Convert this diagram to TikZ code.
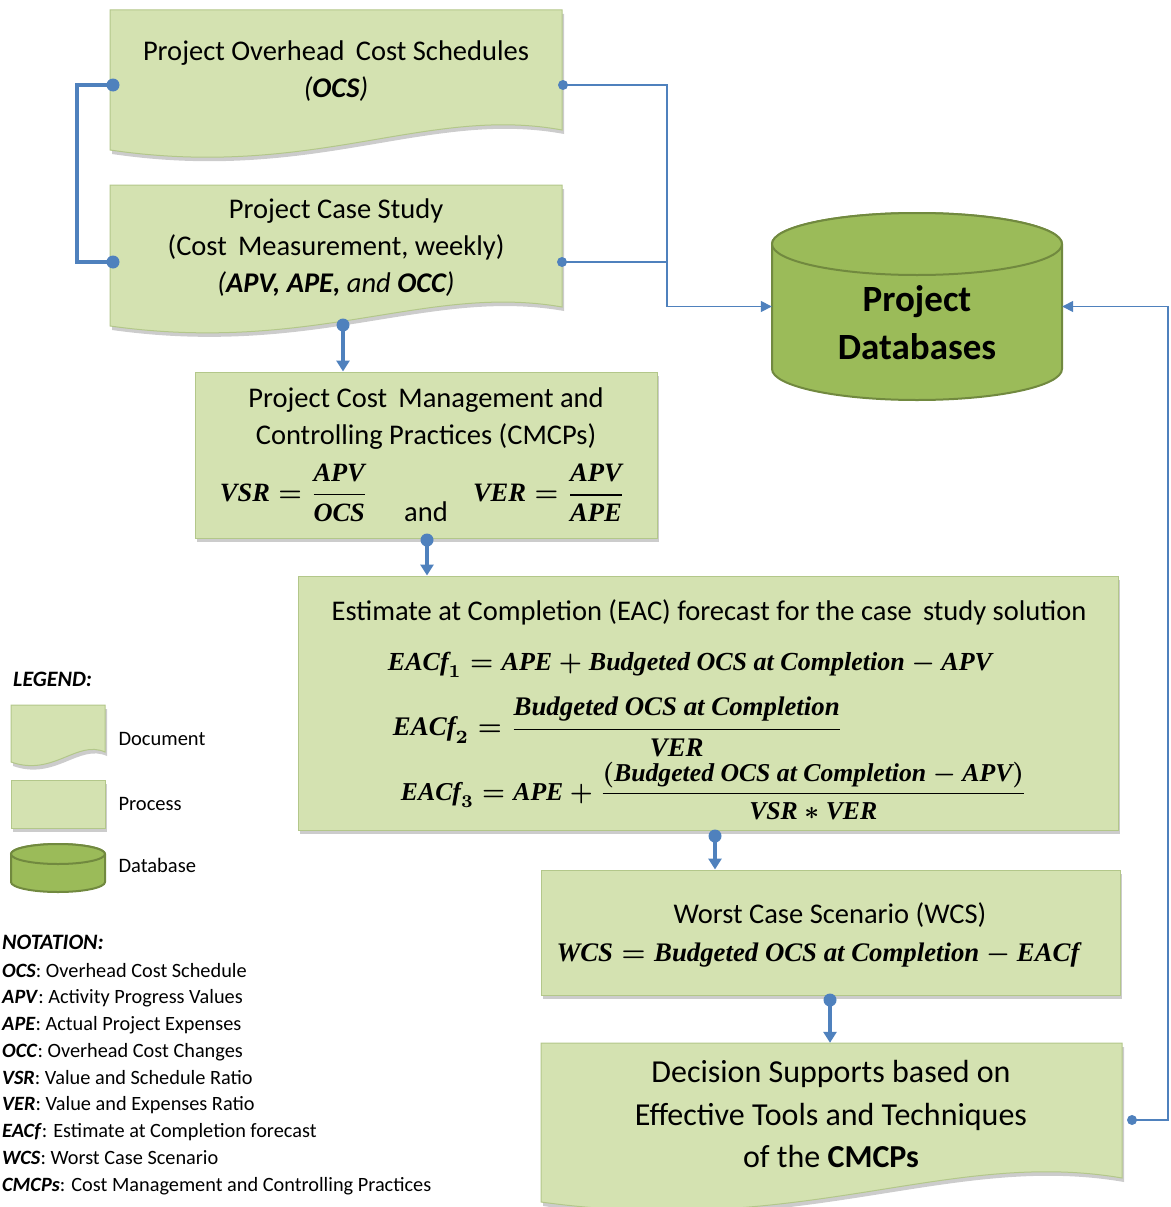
\documentclass[tikz,border=0pt]{standalone}
\usepackage{amsmath}
\usepackage{graphicx}
\usepackage{fontspec}
\setmainfont{Carlito}
\newfontfamily\eqf{Liberation Serif}
\usetikzlibrary{arrows.meta,shadows}
\definecolor{boxfill}{HTML}{D4E2B1}
\definecolor{boxedge}{HTML}{B3C78A}
\definecolor{dbfill}{HTML}{9BBB59}
\definecolor{dbedge}{HTML}{71893F}
\definecolor{linkblue}{HTML}{4F81BD}
\newcommand{\mv}[1]{\text{\eqf\bfseries\itshape #1}}
\begin{document}
\begin{tikzpicture}[x=1pt,y=-1pt,
  box/.style={fill=boxfill, draw=boxedge, line width=1pt,
    drop shadow={shadow xshift=2pt, shadow yshift=-4pt, opacity=0.4}},
  dbshape/.style={fill=dbfill, draw=dbedge, line width=2pt},
  frame/.style={rectangle, inner sep=0pt},
  lbl/.style={font=\fontsize{28.5}{37}\selectfont, align=center, text=black},
  eqn/.style={inner sep=0pt, text=black},
  conn/.style={draw=linkblue, line width=1.5pt},
  flow/.style={draw=linkblue, line width=4pt},
  tip/.style={-{Triangle[length=11pt,width=13pt]}},
  thintip/.style={-{Triangle[length=11pt,width=11pt]}},
  dot/.style={circle, fill=linkblue, inner sep=0pt, minimum size=13pt},
  smalldot/.style={circle, fill=linkblue, inner sep=0pt, minimum size=10pt},
  legtxt/.style={font=\fontsize{20.5}{24}\selectfont, anchor=west},
  notetxt/.style={font=\fontsize{20.3}{24}\selectfont, anchor=base west, inner sep=0pt},
  docshape/.style n args={5}{insert path={(#1,#2) -- (#3,#2) -- (#3,#4)
     .. controls ({#3-0.3*(#3-#1)},{#4-1.25*#5}) and ({#1+0.45*(#3-#1)},{#4+2.5*#5}) .. (#1,{#4+#5}) -- cycle}}
]
\useasboundingbox (0,0) rectangle (1170,1207);

% ---------- document shapes ----------
\path[box, docshape={110}{10}{562}{130}{20}];
\path[box, docshape={110}{185}{562}{307}{19}];
\path[box, docshape={541}{1043}{1122}{1178}{24}];

% ---------- frames (named nodes) ----------
\node[frame, minimum width=452pt, minimum height=120pt] (ocs) at (336,70) {};
\node[frame, minimum width=452pt, minimum height=122pt] (case) at (336,246) {};
\node[frame, minimum width=581pt, minimum height=135pt] (dec) at (831.5,1110.5) {};
\node[frame, box, minimum width=462pt, minimum height=166pt] (cmcp) at (426,455) {};
\node[frame, box, minimum width=820pt, minimum height=254pt] (eac) at (708,703) {};
\node[frame, box, minimum width=579pt, minimum height=125pt] (wcs) at (830.5,932.5) {};
\node[frame, minimum width=290pt, minimum height=187pt] (db) at (917,306.5) {};

% ---------- database cylinder ----------
\path[dbshape] (772,244) -- (772,369) arc[start angle=180, end angle=0, x radius=145, y radius=31]
  -- (1062,244) arc[start angle=0, end angle=-180, x radius=145, y radius=31] -- cycle;
\draw[dbshape] (917,244) ellipse[x radius=145, y radius=31];

% ---------- texts ----------
\node[lbl] (ocsT) at (336,71) {Project Overhead\, Cost Schedules\\\textit{(\textbf{OCS})}};
\node[lbl] (caseT) at (336,248) {Project Case Study\\(Cost\, Measurement, weekly)\\\textit{(\textbf{APV, APE,} and \textbf{OCC})}};
\node[lbl] (cmcpT) at (426,419) {Project Cost\, Management and\\Controlling Practices (CMCPs)};
\node[eqn] (vsr) at (294,493) {\resizebox{148pt}{!}{\boldmath$\mv{VSR} = \dfrac{\mv{APV}}{\mv{OCS}}$}};
\node[lbl, inner sep=0pt] (andT) at (426,512) {and};
\node[eqn] (ver) at (549,493) {\resizebox{152pt}{!}{\boldmath$\mv{VER} = \dfrac{\mv{APV}}{\mv{APE}}$}};

\node[lbl] (eacT) at (709,612) {Estimate at Completion (EAC) forecast for the case\, study solution};
\node[eqn] (eq1) at (690,665) {\resizebox{604pt}{!}{\boldmath$\mv{EACf}_1 = \mv{APE} + \mv{Budgeted OCS at Completion} - \mv{APV}$}};
\node[eqn] (eq2) at (618,727) {\resizebox{450pt}{!}{\boldmath$\mv{EACf}_2 = \dfrac{\mv{Budgeted OCS at Completion}}{\mv{VER}}$}};
\node[eqn] (eq3) at (714,791) {\resizebox{626pt}{!}{\boldmath$\mv{EACf}_3 = \mv{APE} + \dfrac{(\mv{Budgeted OCS at Completion} - \mv{APV})}{\mv{VSR} * \mv{VER}}$}};

\node[lbl] (wcsT) at (830,915) {Worst Case Scenario (WCS)};
\node[eqn] (wcsEq) at (818,955) {\resizebox{523pt}{!}{\boldmath$\mv{WCS} = \mv{Budgeted OCS at Completion} - \mv{EACf}$}};

\node[lbl, font=\fontsize{32}{42.5}\selectfont] (decT) at (831,1114) {Decision Supports based on\\Effective Tools and Techniques\\of the \textbf{CMCPs}};

\node[lbl, font=\fontsize{37}{48}\selectfont\bfseries] (dbT) at (917,323) {Project\\Databases};

% ---------- connectors ----------
\node[dot] (a1) at (113,85) {};
\node[dot] (a2) at (113,262) {};
\draw[flow] (a1.center) -- (77,85) -- (77,262) -- (a2.center);

\node[smalldot] (r1) at (563,85) {};
\node[smalldot] (r2) at (562,262) {};
\draw[conn, thintip] (r1.center) -- (667,85) |- (db.west);
\draw[conn] (r2.center) -- (667,262);

\node[dot] (c1) at (343,325) {};
\draw[flow, tip] (c1.center) -- (c1.center |- cmcp.north);
\node[dot] (c2) at (427,540) {};
\draw[flow, tip] (c2.center) -- (c2.center |- eac.north);
\node[dot] (c3) at (715,836) {};
\draw[flow, tip] (c3.center) -- (c3.center |- wcs.north);
\node[dot] (c4) at (830,1000) {};
\draw[flow, tip] (c4.center) -- (c4.center |- dec.north);

\node[smalldot] (fb) at (1132,1120) {};
\draw[conn, thintip] (fb.center) -- (1168,1120) |- (db.east);

% ---------- legend ----------
\node[anchor=base west, inner sep=0pt, font=\fontsize{22}{26}\selectfont\bfseries\itshape] (legH) at (13,686) {LEGEND:};
\path[box, docshape={11}{705}{105}{752}{10}];
\node[frame, minimum width=94pt, minimum height=47pt] (legDoc) at (58,728.5) {};
\node[frame, box, minimum width=94pt, minimum height=48pt] (legProc) at (58,804) {};
\path[dbshape] (11,854) -- (11,882) arc[start angle=180, end angle=0, x radius=47, y radius=10]
  -- (105,854) arc[start angle=0, end angle=-180, x radius=47, y radius=10] -- cycle;
\draw[dbshape] (58,854) ellipse[x radius=47, y radius=10];
\node[frame, minimum width=94pt, minimum height=50pt] (legDb) at (58,868) {};
\node[legtxt] (lDoc) at (115,739) {Document};
\node[legtxt] (lProc) at (115,804) {Process};
\node[legtxt] (lDb) at (115,865) {Database};

% ---------- notation ----------
\node[anchor=base west, inner sep=0pt, font=\fontsize{22}{26}\selectfont\bfseries\itshape] (notH) at (2,949) {NOTATION:};
\foreach \a/\b [count=\i] in {OCS/Overhead Cost Schedule, APV/Activity Progress Values,
   APE/Actual Project Expenses, OCC/Overhead Cost Changes, VSR/Value and Schedule Ratio,
   VER/Value and Expenses Ratio, EACf/Estimate at Completion forecast, WCS/Worst Case Scenario,
   CMCPs/Cost Management and Controlling Practices}
  \node[notetxt] (nt\i) at (2,{950.25+26.75*\i}) {\textbf{\textit{\a}}: \b};
\end{tikzpicture}
\end{document}
